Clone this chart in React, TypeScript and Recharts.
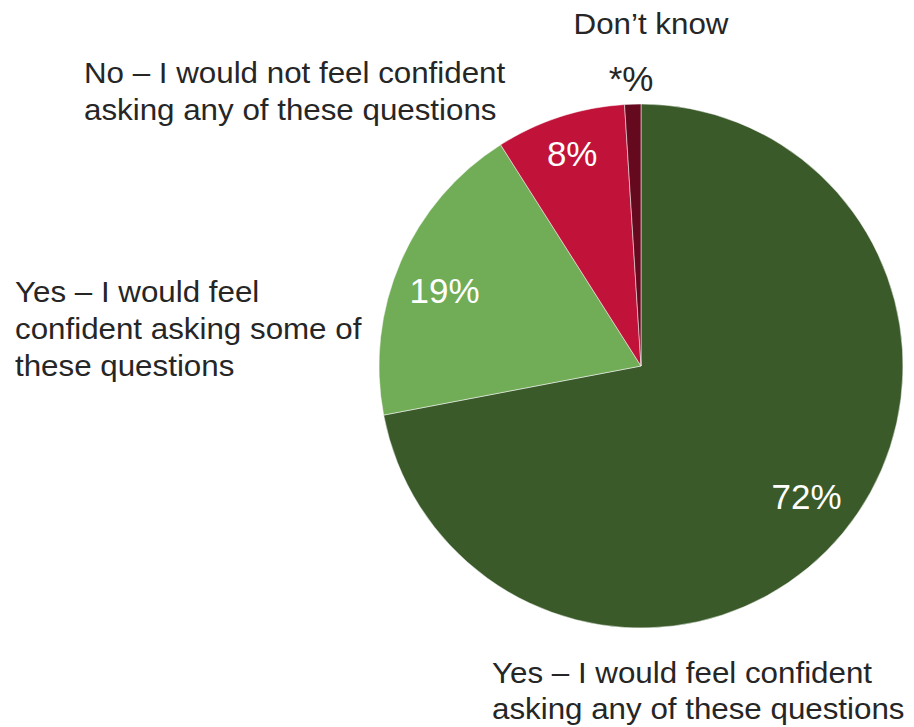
import { Cell, Pie, PieChart } from 'recharts';

const categories = [
  ['Yes – I would feel confident', 'asking any of these questions'],
  ['Yes – I would feel', 'confident asking some of', 'these questions'],
  ['No – I would not feel confident', 'asking any of these questions'],
  ['Don’t know'],
];
const shares = [72, 19, 8, 1];
const shareLabels = ['72%', '19%', '8%', '*%'];

const colors = ['#3a5a2a', '#71ac57', '#c11339', '#650a1e'];

// baseline of first line for each category block
const categoryPos = [
  { x: 492, y: 683, anchor: 'start', lh: 36 },
  { x: 15, y: 302, anchor: 'start', lh: 37 },
  { x: 84, y: 83, anchor: 'start', lh: 37 },
  { x: 651, y: 34, anchor: 'middle', lh: 37 },
];
// radius factor and small nudges for the in-slice percentages
const labelRadius = [0.8, 0.8, 0.85];
const labelNudge = [
  { dx: 4, dy: -3 },
  { dx: -4, dy: 8 },
  { dx: 0, dy: -1 },
];

const data = categories.map((lines, i) => ({ name: lines.join(' '), value: shares[i] }));

const FONT = 'Liberation Sans, Arial, sans-serif';
const RAD = Math.PI / 180;

function renderLabel(props: any) {
  const { cx, cy, midAngle, outerRadius, index } = props;
  const pos = categoryPos[index];
  const inside = index < 3;
  let pct;
  if (inside) {
    const r = outerRadius * labelRadius[index];
    const px = cx + r * Math.cos(-midAngle * RAD) + labelNudge[index].dx;
    const py = cy + r * Math.sin(-midAngle * RAD) + labelNudge[index].dy;
    pct = (
      <text x={px} y={py} fill="#fff" fontSize={35} fontFamily={FONT} textAnchor="middle" dominantBaseline="central">
        {shareLabels[index]}
      </text>
    );
  } else {
    pct = (
      <text x={631} y={91} fill="#262626" fontSize={35} fontFamily={FONT} textAnchor="middle">
        {shareLabels[index]}
      </text>
    );
  }
  return (
    <g>
      {pct}
      <g transform={`translate(${pos.x},${pos.y}) scale(1.08,1)`}>
        <text x={0} y={0} fill="#262626" fontSize={29} fontFamily={FONT} textAnchor={pos.anchor as any}>
          {categories[index].map((line, j) => (
            <tspan key={j} x={0} dy={j === 0 ? 0 : pos.lh}>
              {line}
            </tspan>
          ))}
        </text>
      </g>
    </g>
  );
}

export default function App() {
  return (
    <div style={{ position: 'absolute', left: 0, top: 0, background: '#fff' }}>
      <PieChart width={914} height={727} margin={{ top: 0, right: 0, bottom: 0, left: 0 }}>
        <Pie
          data={data}
          dataKey="value"
          nameKey="name"
          cx={641}
          cy={366}
          outerRadius={262}
          startAngle={90}
          endAngle={-270}
          stroke="#ffffff"
          strokeWidth={0.5}
          label={renderLabel}
          labelLine={false}
          isAnimationActive={false}
        >
          {data.map((_, i) => (
            <Cell key={i} fill={colors[i]} />
          ))}
        </Pie>
      </PieChart>
    </div>
  );
}
